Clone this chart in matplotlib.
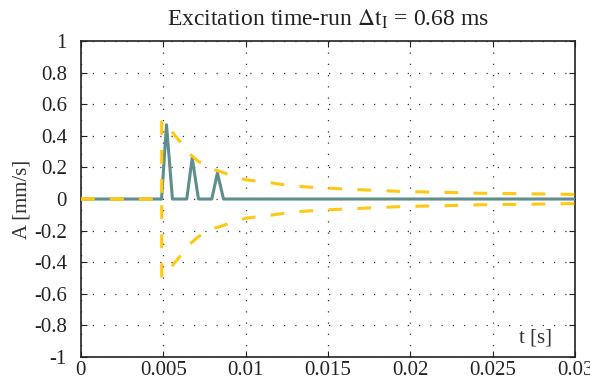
import matplotlib
matplotlib.use("Agg")
import matplotlib.pyplot as plt

plt.rcParams["font.family"] = ["Liberation Serif", "DejaVu Serif"]
plt.rcParams["mathtext.fontset"] = "stix"
plt.rcParams["axes.unicode_minus"] = False

# excitation signal (triangular pulses)
t_sig = [0.0, 0.0049, 0.0052, 0.00556, 0.00643, 0.00676, 0.00714,
         0.00795, 0.00829, 0.00866, 0.03]
a_sig = [0.0, 0.0, 0.47, 0.0, 0.0, 0.26, 0.0, 0.0, 0.165, 0.0, 0.0]

# decay envelope
t_env = [0.0, 0.00491, 0.00491, 0.0053, 0.0056, 0.0061, 0.0065, 0.0071,
         0.0078, 0.0085, 0.0093, 0.0101, 0.0113, 0.0129, 0.0145, 0.0163,
         0.0180, 0.0197, 0.0218, 0.0239, 0.0256, 0.0273, 0.0293, 0.0300]
a_env = [0.0, 0.0, 0.489, 0.480, 0.416, 0.353, 0.296, 0.241,
         0.194, 0.173, 0.141, 0.120, 0.106, 0.082, 0.071, 0.062,
         0.054, 0.047, 0.043, 0.037, 0.035, 0.033, 0.030, 0.029]

x_ticks = [0, 0.005, 0.01, 0.015, 0.02, 0.025, 0.03]
x_tick_labels = ["0", "0.005", "0.01", "0.015", "0.02", "0.025", "0.03"]
y_ticks = [-1, -0.8, -0.6, -0.4, -0.2, 0, 0.2, 0.4, 0.6, 0.8, 1]
y_tick_labels = ["-1", "-0.8", "-0.6", "-0.4", "-0.2", "0", "0.2", "0.4",
                 "0.6", "0.8", "1"]

teal = "#5f8f8c"
yellow = "#ffc814"

fig = plt.figure(figsize=(5.9, 3.85), dpi=100)
ax = fig.add_axes([0.137, 0.0727, 0.8377, 0.8208])

ax.plot(t_sig, a_sig, color=teal, lw=2.2, zorder=3)
ax.plot(t_env, a_env, color=yellow, lw=2.2, dashes=(4.5, 5), zorder=4)
ax.plot(t_env, [-v for v in a_env], color=yellow, lw=2.2, dashes=(4.5, 5),
        zorder=4)

ax.set_xlim(0, 0.03)
ax.set_ylim(-1, 1)
ax.set_xticks(x_ticks)
ax.set_xticklabels(x_tick_labels)
ax.set_yticks(y_ticks)
ax.set_yticklabels(y_tick_labels)
ax.tick_params(direction="in", length=4, width=0.8, labelsize=15,
               top=True, right=True, colors="#222222")
ax.tick_params(axis="x", pad=3)
ax.tick_params(axis="y", pad=10)
for s in ax.spines.values():
    s.set_linewidth(1.2)
    s.set_color("#222222")

ax.grid(True, color="#333333", lw=0.9, linestyle=(0, (1, 8)))
ax.set_axisbelow(True)

ax.set_ylabel("A [mm/s]", fontsize=15, color="#333333", labelpad=2)
ax.set_xlabel("t [s]", fontsize=15, color="#333333", va="center")
ax.xaxis.set_label_coords(0.92, 0.06)

ax.set_title(r"Excitation time-run $\Delta\mathrm{t}_\mathrm{I}$ = 0.68 ms",
             fontsize=17, color="#222222", pad=11)

fig.savefig("out.png", dpi=100)
